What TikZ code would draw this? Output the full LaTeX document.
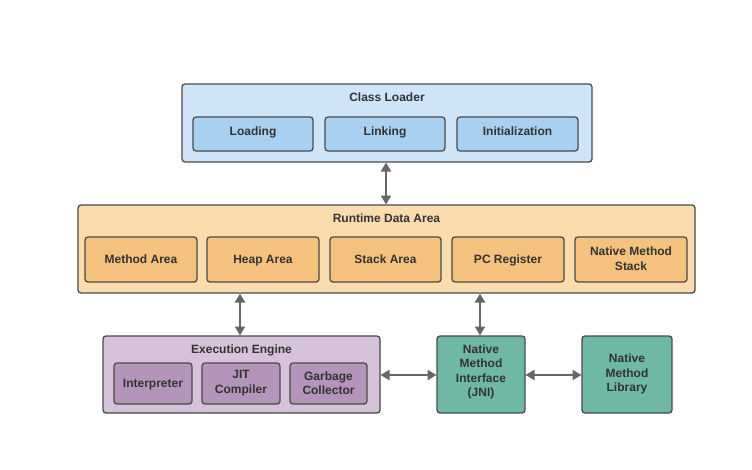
\documentclass[tikz,border=0pt]{standalone}
\usepackage{fontspec}
\setmainfont{Liberation Sans}
\usetikzlibrary{arrows.meta}
\definecolor{bdr}{HTML}{4A4A4A}
\definecolor{txt}{HTML}{333333}
\definecolor{clout}{HTML}{CFE4F6}
\definecolor{clin}{HTML}{A8D1F1}
\definecolor{rdout}{HTML}{FADCAE}
\definecolor{rdin}{HTML}{F5C27D}
\definecolor{eeout}{HTML}{D6C2DA}
\definecolor{eein}{HTML}{B395B9}
\definecolor{jni}{HTML}{70B8A6}
\definecolor{arr}{HTML}{666666}
\begin{document}
\begin{tikzpicture}[x=1pt,y=-1pt,
  box/.style={draw=bdr,line width=1.3pt,rounded corners=3pt},
  mlbl/.style={font=\bfseries\fontsize{12}{14.5}\selectfont,text=txt,align=center,inner sep=0pt},
  lbl/.style={font=\bfseries\fontsize{12}{14.5}\selectfont,text=txt,inner sep=0pt,text height=9.6pt,text depth=1pt},
  conn/.style={draw=arr,line width=2.8pt,{Triangle[width=10pt,length=9pt]}-{Triangle[width=10pt,length=9pt]},shorten <=0.5pt,shorten >=0.5pt}]
\useasboundingbox (0,0) rectangle (752,469);
% Class loader
\path[box,fill=clout] (182,84) rectangle (592,162);
\node[lbl] (clt) at (387,97.5) {Class Loader};
\coordinate (clB) at (386,162);
\path[box,fill=clin] (193,117) rectangle (313,151);
\node[lbl] (load) at (253,131) {Loading};
\path[box,fill=clin] (325,117) rectangle (445,151);
\node[lbl] (link) at (385,131) {Linking};
\path[box,fill=clin] (457,117) rectangle (578,151);
\node[lbl] (init) at (517.5,131) {Initialization};
% Runtime data area
\path[box,fill=rdout] (78,205) rectangle (695,293);
\node[lbl] (rdt) at (386.5,218) {Runtime Data Area};
\coordinate (rdT) at (386,205);
\coordinate (rdB1) at (240,293);
\coordinate (rdB2) at (480,293);
\path[box,fill=rdin] (85,237) rectangle (197,282);
\node[lbl] (ma) at (141,259.5) {Method Area};
\path[box,fill=rdin] (207,237) rectangle (319,282);
\node[lbl] (ha) at (263,259.5) {Heap Area};
\path[box,fill=rdin] (330,237) rectangle (441,282);
\node[lbl] (sa) at (385.5,259.5) {Stack Area};
\path[box,fill=rdin] (452,237) rectangle (564,282);
\node[lbl] (pc) at (508,259.5) {PC Register};
\path[box,fill=rdin] (575,237) rectangle (687,282);
\node[mlbl] (nms) at (631,258.5) {Native Method\\Stack};
% Execution engine
\path[box,fill=eeout] (103,336) rectangle (380,413);
\node[lbl] (eet) at (241.5,349) {Execution Engine};
\coordinate (eeT) at (240,336);
\coordinate (eeR) at (380,375);
\path[box,fill=eein] (114,363) rectangle (192,404);
\node[lbl] (interp) at (153,383.5) {Interpreter};
\path[box,fill=eein] (202,363) rectangle (280,404);
\node[mlbl] (jit) at (241,383) {JIT\\Compiler};
\path[box,fill=eein] (290,363) rectangle (367,404);
\node[mlbl] (gc) at (328.5,383) {Garbage\\Collector};
% JNI and library
\path[box,fill=jni] (437,336) rectangle (525,413);
\node[mlbl] (jnit) at (481,372) {Native\\Method\\Interface\\(JNI)};
\coordinate (jniT) at (480,336);
\coordinate (jniL) at (437,375);
\coordinate (jniR) at (525,375);
\path[box,fill=jni] (582,336) rectangle (672,413);
\node[mlbl] (nml) at (627,374) {Native\\Method\\Library};
\coordinate (nmlL) at (582,375);
% connectors
\draw[conn] (clB) -- (rdT);
\draw[conn] (rdB1) -- (eeT);
\draw[conn] (rdB2) -- (jniT);
\draw[conn] (eeR) -- (jniL);
\draw[conn] (jniR) -- (nmlL);
\end{tikzpicture}
\end{document}
